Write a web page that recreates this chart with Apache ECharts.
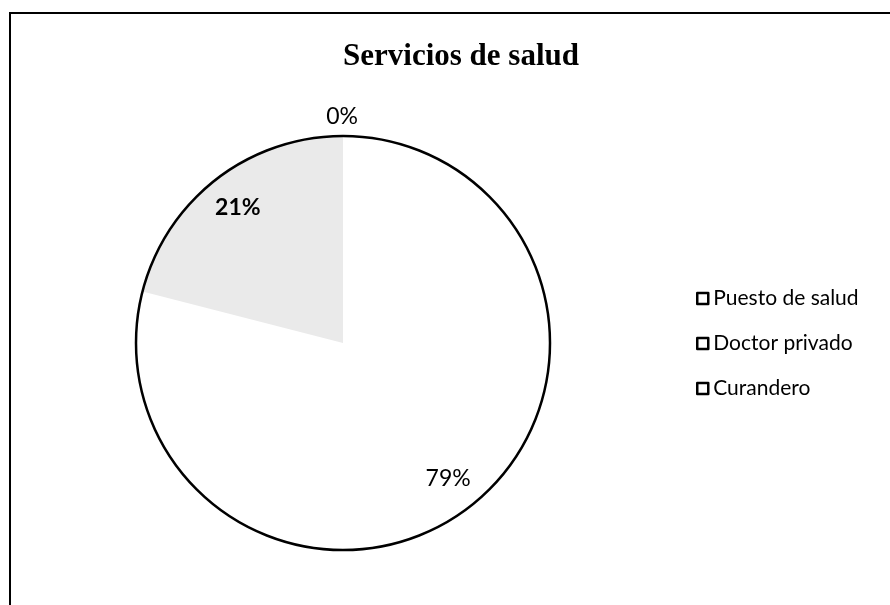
<!DOCTYPE html>
<html>
<head>
<meta charset="utf-8">
<script src="https://cdn.jsdelivr.net/npm/echarts@6/dist/echarts.min.js"></script>
<style>
  html, body { margin: 0; padding: 0; background: #fff; }
  #main { width: 890px; height: 605px; }
</style>
</head>
<body>
<div id="main"></div>
<script>
// datos del gráfico
var categories = ['Puesto de salud', 'Doctor privado', 'Curandero'];
var values = [79, 21, 0];
var sliceColors = ['#ffffff', '#eaeaea', '#ffffff'];

var pieCenter = [343, 343];
var pieRadius = 207;

var myChart = echarts.init(document.getElementById('main'));

var pieData = categories.map(function (name, i) {
    return { name: name, value: values[i], itemStyle: { color: sliceColors[i] } };
});

// serie solo para las etiquetas (anillo invisible, así quedan cerca del borde)
var labelData = categories.map(function (name, i) {
    var item = { name: name, value: values[i] };
    if (values[i] === 0) {
        item.label = { position: 'outside', offset: [20, 0] };
    }
    if (name === 'Doctor privado') {
        item.label = { fontWeight: 'bold' };
    }
    return item;
});

var option = {
    backgroundColor: '#fff',
    title: {
        text: 'Servicios de salud',
        left: 456,
        top: 36,
        textAlign: 'center',
        textStyle: {
            fontFamily: 'Liberation Serif',
            fontWeight: 'bold',
            fontSize: 31,
            color: '#000'
        }
    },
    legend: {
        data: categories,
        orient: 'vertical',
        left: 691,
        top: 283,
        itemWidth: 11,
        itemHeight: 11,
        itemGap: 24,
        icon: 'rect',
        selectedMode: false,
        itemStyle: { color: '#fff', borderColor: '#000', borderWidth: 2.5 },
        textStyle: { fontFamily: 'Lato', fontSize: 21, color: '#000' }
    },
    graphic: [{
        type: 'rect',
        shape: { x: 10, y: 13, width: 900, height: 620 },
        style: { fill: 'none', stroke: '#000', lineWidth: 2 },
        silent: true
    }],
    series: [
        {
            name: 'Servicios de salud',
            type: 'pie',
            center: pieCenter,
            radius: pieRadius,
            startAngle: 90,
            clockwise: true,
            label: { show: false },
            labelLine: { show: false },
            emphasis: { disabled: true },
            itemStyle: { borderWidth: 0 },
            data: pieData
        },
        {
            // contorno del círculo
            type: 'pie',
            center: pieCenter,
            radius: pieRadius,
            silent: true,
            label: { show: false },
            labelLine: { show: false },
            itemStyle: { color: 'rgba(0,0,0,0)', borderColor: '#000', borderWidth: 2.5 },
            data: [{ name: 'borde', value: 1 }]
        },
        {
            name: 'Servicios de salud',
            type: 'pie',
            center: pieCenter,
            radius: [130, pieRadius],
            startAngle: 90,
            clockwise: true,
            silent: true,
            avoidLabelOverlap: false,
            itemStyle: { color: 'rgba(0,0,0,0)' },
            label: {
                show: true,
                position: 'inside',
                formatter: '{d}%',
                fontFamily: 'Lato',
                fontSize: 23,
                color: '#000'
            },
            labelLine: { show: false, length: 19, length2: 0 },
            data: labelData
        }
    ]
};

myChart.setOption(option);
</script>
</body>
</html>
